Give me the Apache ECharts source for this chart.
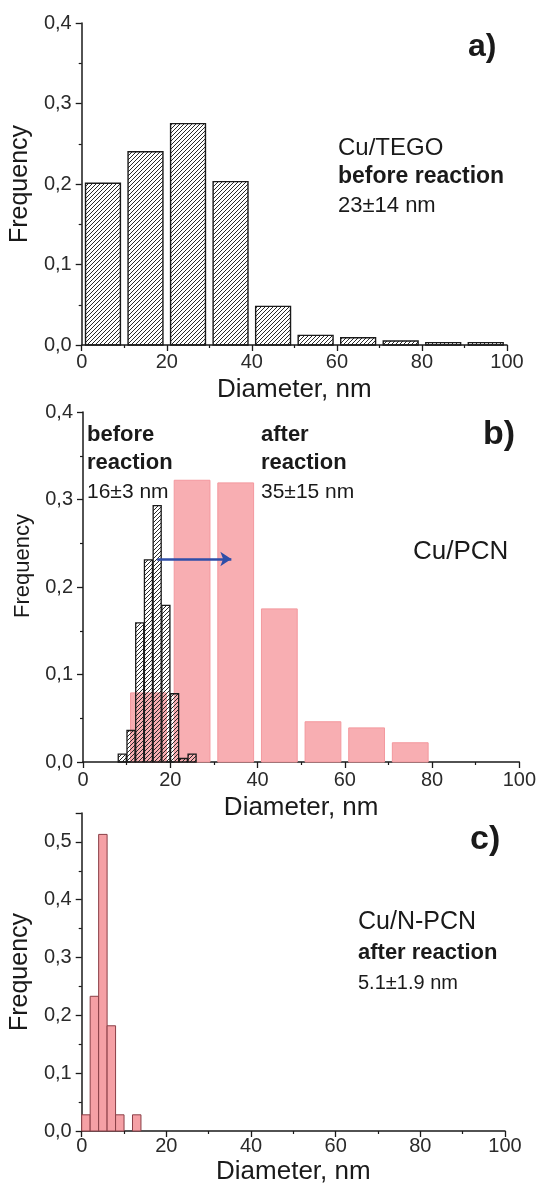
<!DOCTYPE html>
<html>
<head>
<meta charset="utf-8">
<script src="https://cdn.jsdelivr.net/npm/echarts@6/dist/echarts.min.js"></script>
<style>
html,body{margin:0;padding:0;background:#fff;}
#chart{width:539px;height:1186px;}
</style>
</head>
<body>
<div id="chart"></div>
<script>
// ---- Data ----
// Panel a: Cu/TEGO before reaction (10 nm bins)
const aBinStarts = [0, 10, 20, 30, 40, 50, 60, 70, 80, 90];
const aFreq = [0.201, 0.240, 0.275, 0.203, 0.048, 0.012, 0.009, 0.005, 0.003, 0.003];
const aBinWidth = 10;

// Panel b: Cu/PCN before reaction (2 nm bins)
const bBeforeStarts = [8, 10, 12, 14, 16, 18, 20, 22, 24];
const bBeforeFreq = [0.009, 0.036, 0.159, 0.231, 0.293, 0.179, 0.078, 0.004, 0.009];
const bBeforeWidth = 2;
// Panel b: Cu/PCN after reaction (10 nm bins)
const bAfterStarts = [10, 20, 30, 40, 50, 60, 70];
const bAfterFreq = [0.079, 0.322, 0.319, 0.175, 0.046, 0.039, 0.022];
const bAfterWidth = 10;
// shift arrow (from before-mean to after-mean)
const arrowFrom = [17, 0.232];
const arrowTo = [34, 0.232];

// Panel c: Cu/N-PCN after reaction (2 nm bins)
const cBinStarts = [0, 2, 4, 6, 8, 10, 12];
const cFreq = [0.028, 0.233, 0.513, 0.182, 0.028, 0, 0.028];
const cBinWidth = 2;

const xTicks = [0, 20, 40, 60, 80, 100];

// ---- Helpers ----
function hatch(size, color) {
  const c = document.createElement('canvas');
  c.width = size; c.height = size;
  const g = c.getContext('2d');
  g.strokeStyle = color; g.lineWidth = 1;
  g.beginPath();
  g.moveTo(-1, size + 1); g.lineTo(size + 1, -1);
  g.moveTo(-1, 1); g.lineTo(1, -1);
  g.moveTo(size - 1, size + 1); g.lineTo(size + 1, size - 1);
  g.stroke();
  return c;
}
function binData(starts, freqs, width, gapFrac) {
  return starts.map((s, i) => [s + width * gapFrac, s + width * (1 - gapFrac), freqs[i]]);
}
function histSeries(idx, data, fill, stroke, lw, z) {
  return {
    type: 'custom', xAxisIndex: idx, yAxisIndex: idx, z: z || 2,
    data: data,
    encode: { x: [0, 1], y: 2 },
    renderItem: function (params, api) {
      const y = api.value(2);
      if (y <= 0) return null;
      const p0 = api.coord([api.value(0), y]);
      const p1 = api.coord([api.value(1), 0]);
      return {
        type: 'rect',
        shape: { x: p0[0], y: p0[1], width: p1[0] - p0[0], height: p1[1] - p0[1] },
        style: { fill: fill, stroke: stroke, lineWidth: lw }
      };
    }
  };
}
const FONT = '"Liberation Sans", Arial, sans-serif';
const fmtY = v => (Math.abs(v * 10 - Math.round(v * 10)) < 1e-6) ? v.toFixed(1).replace('.', ',') : '';

function xAxisOf(idx, labelMargin, nameGap) {
  return {
    gridIndex: idx, type: 'value', min: 0, max: 100, interval: 20,
    name: 'Diameter, nm', nameLocation: 'middle', nameGap: nameGap,
    nameTextStyle: { fontFamily: FONT, fontSize: 26, color: '#1a1a1a' },
    axisLine: { show: true, onZero: false, lineStyle: { color: '#1a1a1a', width: 1.5 } },
    axisTick: { show: true, inside: false, length: 6, lineStyle: { color: '#1a1a1a', width: 1.3 } },
    minorTick: { show: true, splitNumber: 2, length: 3, lineStyle: { color: '#1a1a1a', width: 1.2 } },
    splitLine: { show: false },
    axisLabel: { fontFamily: FONT, fontSize: 20, color: '#2a2a2a', margin: labelMargin,
      formatter: v => xTicks.indexOf(v) >= 0 ? String(v) : '' }
  };
}
function yAxisOf(idx, max, nameGap, nameSize, namePad) {
  return {
    gridIndex: idx, type: 'value', min: 0, max: max, interval: 0.1,
    name: 'Frequency', nameLocation: 'middle', nameGap: nameGap,
    nameTextStyle: { fontFamily: FONT, fontSize: nameSize, color: '#1a1a1a', padding: namePad || 0 },
    axisLine: { show: true, onZero: false, lineStyle: { color: '#1a1a1a', width: 1.5 } },
    axisTick: { show: true, inside: false, length: 6, lineStyle: { color: '#1a1a1a', width: 1.3 } },
    minorTick: { show: true, splitNumber: 2, length: 3, lineStyle: { color: '#1a1a1a', width: 1.2 } },
    splitLine: { show: false },
    axisLabel: { fontFamily: FONT, fontSize: 20, color: '#2a2a2a', margin: 10, formatter: fmtY }
  };
}
function txt(x, y, text, size, bold) {
  return { type: 'text', x: x, y: y, z: 100,
    style: { text: text, fontFamily: FONT, fontSize: size, fontWeight: bold ? 'bold' : 'normal',
      fill: '#1a1a1a', verticalAlign: 'middle', align: 'left' } };
}

const hatchA = { image: hatch(4, '#2a2a2a'), repeat: 'repeat' };
const hatchB = { image: hatch(4, '#2a2a2a'), repeat: 'repeat' };

const option = {
  backgroundColor: '#fff',
  animation: false,
  grid: [
    { left: 79, right: 32, top: 23, height: 322 },
    { left: 83, right: 17, top: 412, height: 350 },
    { left: 81, right: 34, top: 813, height: 319 }
  ],
  xAxis: [xAxisOf(0, 7, 32), xAxisOf(1, 8, 33), xAxisOf(2, 5, 28)],
  yAxis: [yAxisOf(0, 0.4, 43, 25), yAxisOf(1, 0.4, 44, 22, [0, 0, 0, 42]), yAxisOf(2, 0.55, 38, 25)],
  series: [
    histSeries(0, binData(aBinStarts, aFreq, aBinWidth, 0.09), hatchA, '#1a1a1a', 1.4),
    histSeries(1, binData(bAfterStarts, bAfterFreq, bAfterWidth, 0.09), '#f8aeb2', '#f3989e', 1),
    histSeries(1, binData(bBeforeStarts, bBeforeFreq, bBeforeWidth, 0.04), hatchB, '#1a1a1a', 1.3, 3),
    {
      type: 'lines', coordinateSystem: 'cartesian2d', xAxisIndex: 1, yAxisIndex: 1, z: 5,
      symbol: ['none', 'arrow'], symbolSize: [0, 11],
      lineStyle: { color: '#2f4ea8', width: 2.5, opacity: 1, curveness: 0 },
      data: [{ coords: [arrowFrom, arrowTo] }]
    },
    histSeries(2, binData(cBinStarts, cFreq, cBinWidth, 0), '#f5a0a5', '#8a3f47', 1)
  ],
  graphic: [
    txt(468, 47, 'a)', 32, true),
    txt(338, 148, 'Cu/TEGO', 24, false),
    txt(338, 177, 'before reaction', 23, true),
    txt(338, 206, '23±14 nm', 22, false),

    txt(483, 435, 'b)', 34, true),
    txt(87, 435, 'before', 22, true),
    txt(87, 463, 'reaction', 22, true),
    txt(87, 492, '16±3 nm', 21, false),
    txt(261, 435, 'after', 22, true),
    txt(261, 463, 'reaction', 22, true),
    txt(261, 492, '35±15 nm', 21, false),
    txt(413, 552, 'Cu/PCN', 26, false),

    txt(470, 840, 'c)', 34, true),
    txt(358, 922, 'Cu/N-PCN', 25, false),
    txt(358, 953, 'after reaction', 22, true),
    txt(358, 983, '5.1±1.9 nm', 20, false)
  ]
};

const chart = echarts.init(document.getElementById('chart'), null, { renderer: 'canvas' });
chart.setOption(option);
</script>
</body>
</html>
